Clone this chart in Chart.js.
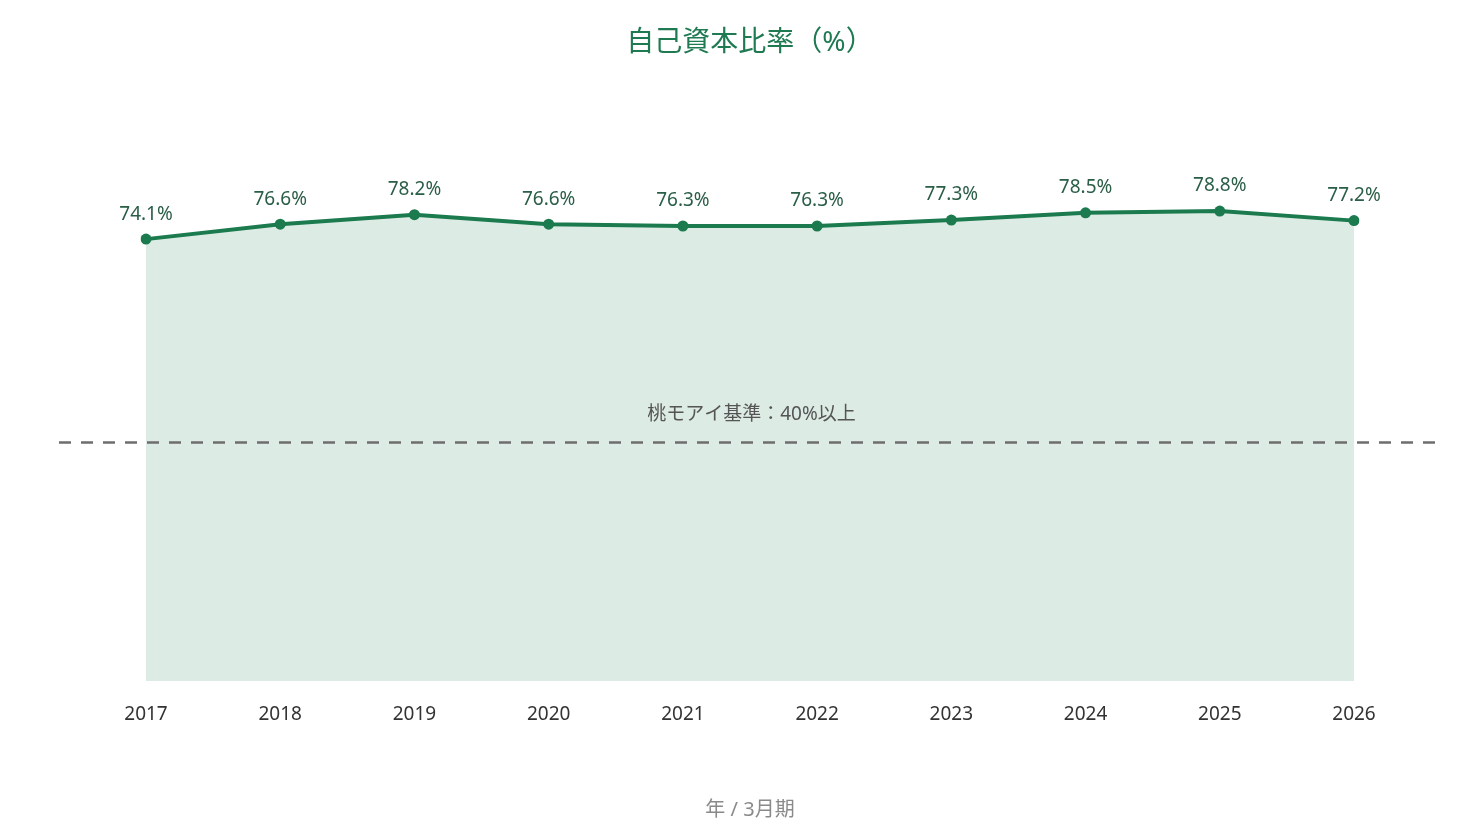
<!DOCTYPE html>
<html lang="ja">
<head>
<meta charset="utf-8">
<title>自己資本比率</title>
<script src="https://cdn.jsdelivr.net/npm/chart.js@4"></script>
<style>
  html, body { margin: 0; padding: 0; background: #fff; }
  #wrap { width: 1470px; height: 840px; position: relative; }
</style>
</head>
<body>
<div id="wrap"><canvas id="chartRatio"></canvas></div>
<script>
const years = ["2017", "2018", "2019", "2020", "2021", "2022", "2023", "2024", "2025", "2026"];
const ratios = [74.1, 76.6, 78.2, 76.6, 76.3, 76.3, 77.3, 78.5, 78.8, 77.2];
const benchmark = 40;
const benchmarkLabel = "桃モアイ基準：40%以上";

const FONT = '"Noto Sans", "Noto Sans CJK JP", sans-serif';
const GREEN = "#1b7a4e";

// value labels above each point
const pointLabels = {
  id: "pointLabels",
  afterDatasetsDraw(chart) {
    const { ctx } = chart;
    const meta = chart.getDatasetMeta(0);
    ctx.save();
    ctx.font = `19px ${FONT}`;
    ctx.fillStyle = "#2a5e47";
    ctx.textAlign = "center";
    ctx.textBaseline = "middle";
    meta.data.forEach((pt, i) => {
      ctx.fillText(ratios[i].toFixed(1) + "%", pt.x, pt.y - 25);
    });
    ctx.restore();
  },
};

// dashed benchmark line
const benchLine = {
  id: "benchLine",
  afterDatasetsDraw(chart) {
    const { ctx, chartArea } = chart;
    const y = chart.scales.y.getPixelForValue(benchmark);
    const x0 = chartArea.left - 87;
    const x1 = chartArea.right + 90;
    ctx.save();
    ctx.strokeStyle = "#6e6e6e";
    ctx.lineWidth = 2.5;
    ctx.setLineDash([12, 10]);
    ctx.beginPath();
    ctx.moveTo(x0, y);
    ctx.lineTo(x1, y);
    ctx.stroke();
    ctx.setLineDash([]);
    ctx.font = `19px ${FONT}`;
    ctx.fillStyle = "#555";
    ctx.textAlign = "center";
    ctx.textBaseline = "middle";
    ctx.fillText(benchmarkLabel, (x0 + x1) / 2, y - 28);
    ctx.restore();
  },
};

new Chart(document.getElementById("chartRatio"), {
  type: "line",
  data: {
    labels: years,
    datasets: [
      {
        data: ratios,
        borderColor: GREEN,
        borderWidth: 4,
        backgroundColor: "#dcebe3",
        fill: "origin",
        tension: 0,
        pointRadius: 5.5,
        pointBackgroundColor: GREEN,
        pointBorderColor: GREEN,
        pointBorderWidth: 0,
      },
    ],
  },
  options: {
    responsive: true,
    maintainAspectRatio: false,
    animation: false,
    layout: { padding: { left: 146, right: 116, top: 0, bottom: 18 } },
    plugins: {
      legend: { display: false },
      tooltip: { enabled: false },
      title: {
        display: true,
        text: "自己資本比率（%）",
        color: "#1f7a52",
        font: { family: FONT, size: 28, weight: "normal" },
        padding: { top: 26, bottom: 25 },
      },
    },
    scales: {
      x: {
        offset: false,
        grid: { display: false, drawTicks: false },
        border: { display: false },
        ticks: { color: "#333", font: { family: FONT, size: 19 }, padding: 22 },
        title: {
          display: true,
          text: "年 / 3月期",
          color: "#8a8a8a",
          font: { family: FONT, size: 20 },
          padding: { top: 50, bottom: 0 },
        },
      },
      y: {
        display: false,
        min: 0,
        max: 100,
      },
    },
  },
  plugins: [pointLabels, benchLine],
});
</script>
</body>
</html>
